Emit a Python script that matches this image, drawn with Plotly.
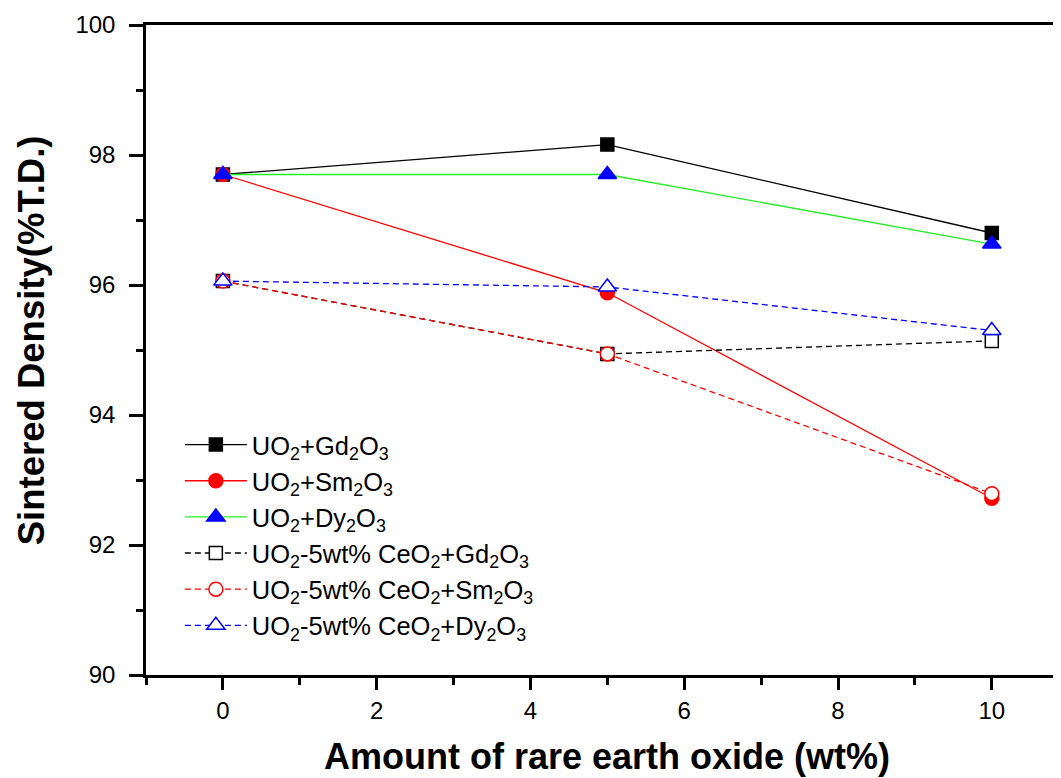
import plotly.graph_objects as go

x_vals = [0, 5, 10]
gd = [97.70, 98.16, 96.80]
sm = [97.70, 95.88, 92.72]
dy = [97.70, 97.70, 96.63]
ce_gd = [96.06, 94.94, 95.14]
ce_sm = [96.06, 94.94, 92.79]
ce_dy = [96.06, 95.97, 95.30]

names = [
    "UO<sub>2</sub>+Gd<sub>2</sub>O<sub>3</sub>",
    "UO<sub>2</sub>+Sm<sub>2</sub>O<sub>3</sub>",
    "UO<sub>2</sub>+Dy<sub>2</sub>O<sub>3</sub>",
    "UO<sub>2</sub>-5wt% CeO<sub>2</sub>+Gd<sub>2</sub>O<sub>3</sub>",
    "UO<sub>2</sub>-5wt% CeO<sub>2</sub>+Sm<sub>2</sub>O<sub>3</sub>",
    "UO<sub>2</sub>-5wt% CeO<sub>2</sub>+Dy<sub>2</sub>O<sub>3</sub>",
]
x_title = "<b>Amount of rare earth oxide (wt%)</b>"
y_title = "<b>Sintered Density(%T.D.)</b>"

fig = go.Figure()
specs = [
    (gd, "black", "black", "black", "square", 13, "solid"),
    (sm, "red", "red", "red", "circle", 14, "solid"),
    (dy, "#22ee22", "blue", "blue", "triangle-up", 16, "solid"),
    (ce_gd, "black", "white", "black", "square", 13, "6px,4px"),
    (ce_sm, "red", "white", "red", "circle", 14, "6px,4px"),
    (ce_dy, "blue", "white", "blue", "triangle-up", 16, "6px,4px"),
]
for (vals, lc, fc, mlc, sym, sz, dash), nm in zip(specs, names):
    fig.add_trace(go.Scatter(
        x=x_vals, y=vals, name=nm, mode="lines+markers",
        line=dict(color=lc, width=1.3, dash=dash),
        marker=dict(symbol=sym, size=sz, color=fc, line=dict(color=mlc, width=1.5)),
    ))

# page body has an 8px margin; figure is shrunk/shifted to compensate
fig.update_layout(
    width=1053, height=770,
    margin=dict(l=138, r=0, t=17, b=103),
    plot_bgcolor="white", paper_bgcolor="white",
    font=dict(family="Liberation Sans, Arial, sans-serif", color="black"),
    legend=dict(x=0.037, y=0.39, xanchor="left", yanchor="top",
                font=dict(size=25.5), bgcolor="rgba(0,0,0,0)", itemwidth=62,
                tracegroupgap=0),
    showlegend=True,
    annotations=[
        dict(text=x_title, xref="paper", yref="paper", x=0.504, y=-0.126,
             xanchor="center", yanchor="middle", showarrow=False, font=dict(size=36)),
        dict(text=y_title, xref="paper", yref="paper", x=-0.1257, y=0.515,
             xanchor="center", yanchor="middle", textangle=-90, showarrow=False,
             font=dict(size=36.5)),
    ],
)
fig.update_xaxes(
    range=[-1, 10.9], tickvals=[0, 2, 4, 6, 8, 10], automargin=False,
    ticks="outside", ticklen=12, tickwidth=2.5, tickcolor="black",
    minor=dict(tickvals=[-1, 1, 3, 5, 7, 9], ticks="outside", ticklen=7, tickwidth=2.5, tickcolor="black"),
    showline=True, linewidth=2.5, linecolor="black", mirror=True,
    showgrid=False, zeroline=False, ticklabelstandoff=0,
    tickfont=dict(size=24),
)
fig.update_yaxes(
    range=[90, 100], tickvals=[90, 92, 94, 96, 98, 100], automargin=False,
    ticks="outside", ticklen=14, tickwidth=2.5, tickcolor="black",
    minor=dict(tickvals=[91, 93, 95, 97, 99], ticks="outside", ticklen=7, tickwidth=2.5, tickcolor="black"),
    showline=True, linewidth=2.5, linecolor="black",
    showgrid=False, zeroline=False, ticklabelstandoff=9,
    tickfont=dict(size=24),
)

fig.write_html("out.html")
